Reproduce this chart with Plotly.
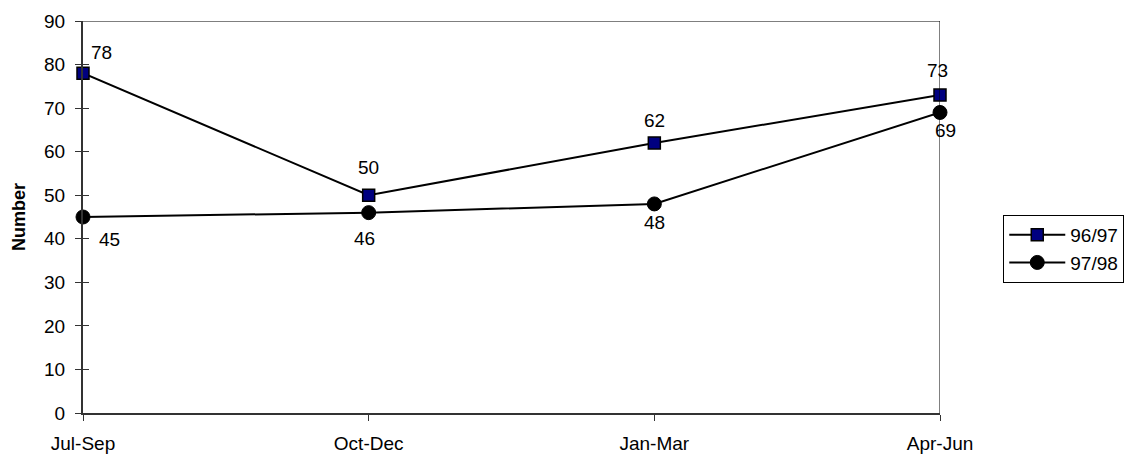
import plotly.graph_objects as go

# Quarterly counts for two financial years
quarters = ["Jul-Sep", "Oct-Dec", "Jan-Mar", "Apr-Jun"]
series_9697 = [78, 50, 62, 73]
series_9798 = [45, 46, 48, 69]
y_ticks = [0, 10, 20, 30, 40, 50, 60, 70, 80, 90]

FONT = "Liberation Sans, Arial, sans-serif"
FS = 19
x_pos = list(range(len(quarters)))

fig = go.Figure()

fig.add_trace(go.Scatter(
    x=x_pos, y=series_9697, name="96/97", mode="lines+markers",
    line=dict(color="black", width=2),
    marker=dict(symbol="square", size=12, color="#000080",
                line=dict(color="black", width=1.5)),
    cliponaxis=False,
))
fig.add_trace(go.Scatter(
    x=x_pos, y=series_9798, name="97/98", mode="lines+markers",
    line=dict(color="black", width=2),
    marker=dict(symbol="circle", size=14, color="black",
                line=dict(color="black", width=1)),
    cliponaxis=False,
))

# value labels: 96/97 above its points, 97/98 below
above_shift = [(18, 21), (0, 28), (0, 22), (-3, 25)]
below_shift = [(26, -22), (-4, -26), (0, -19), (5, -18)]
for i, v in enumerate(series_9697):
    dx, dy = above_shift[i]
    fig.add_annotation(x=x_pos[i], y=v, text=str(v), showarrow=False,
                       xshift=dx, yshift=dy,
                       font=dict(family=FONT, size=FS, color="black"))
for i, v in enumerate(series_9798):
    dx, dy = below_shift[i]
    fig.add_annotation(x=x_pos[i], y=v, text=str(v), showarrow=False,
                       xshift=dx, yshift=dy,
                       font=dict(family=FONT, size=FS, color="black"))

# thin frame on the top and right of the plot area
fig.add_shape(type="line", xref="x", yref="y", x0=0, x1=3, y0=90, y1=90,
              line=dict(color="black", width=1))
fig.add_shape(type="line", xref="x", yref="y", x0=3, x1=3, y0=0, y1=90,
              line=dict(color="black", width=1))

fig.update_layout(
    width=1126, height=455,
    margin=dict(l=83, r=186, t=21, b=42, autoexpand=False),
    paper_bgcolor="white", plot_bgcolor="white",
    font=dict(family=FONT, size=FS, color="black"),
    showlegend=True,
    legend=dict(xref="container", yref="container",
                x=0.891, y=0.453, xanchor="left", yanchor="middle",
                bordercolor="black", borderwidth=1, itemwidth=56,
                font=dict(family=FONT, size=FS), tracegroupgap=0),
    xaxis=dict(range=[0, 3], tickmode="array", tickvals=x_pos,
               ticktext=quarters, showgrid=False, zeroline=False,
               showline=True, linecolor="#333333", linewidth=2,
               ticks="outside", ticklen=6, tickcolor="#333333",
               ticklabelstandoff=6, automargin=False,
               tickfont=dict(family=FONT, size=FS)),
    yaxis=dict(range=[0, 90], tickmode="array", tickvals=y_ticks,
               showgrid=False, zeroline=False,
               showline=True, linecolor="#333333", linewidth=2,
               ticks="outside", ticklen=6, tickcolor="#333333",
               ticklabelstandoff=6, automargin=False,
               tickfont=dict(family=FONT, size=FS),
               title=dict(text="<b>Number</b>", standoff=14,
                          font=dict(family=FONT, size=18))),
    # second copy of the value axis supplies the inner half of the cross ticks
    yaxis2=dict(range=[0, 90], tickmode="array", tickvals=y_ticks,
                overlaying="y", side="left", showgrid=False, zeroline=False,
                showline=False, showticklabels=False, automargin=False,
                ticks="inside", ticklen=6, tickcolor="#333333"),
)
# invisible trace to anchor the second value axis
fig.add_trace(go.Scatter(x=[0], y=[0], yaxis="y2", mode="markers",
                         marker=dict(opacity=0), showlegend=False,
                         hoverinfo="skip"))

fig.write_html("out.html")
